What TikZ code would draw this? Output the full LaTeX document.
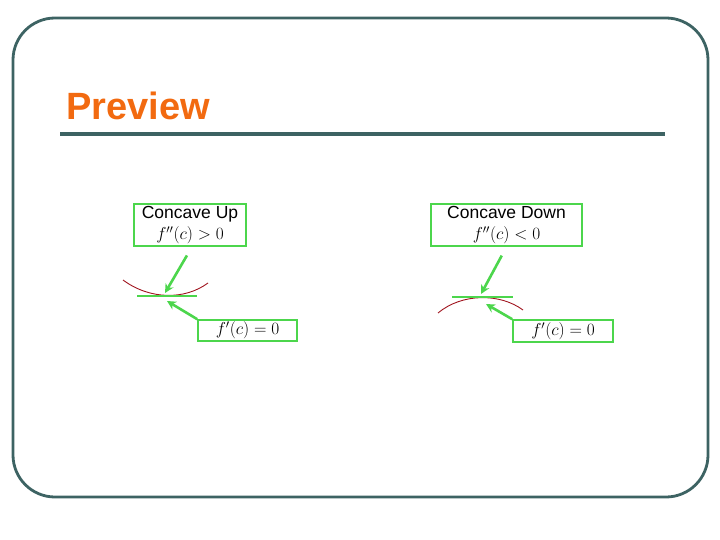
\documentclass[tikz,border=0pt]{standalone}
\usepackage{fontspec}
\setmainfont{Liberation Sans}
\usepackage{tikz}
\usetikzlibrary{arrows.meta, positioning, calc}
\definecolor{frameteal}{HTML}{3D6363}
\definecolor{titleorange}{HTML}{F26A10}
\definecolor{boxgreen}{HTML}{4CD64C}
\definecolor{curvered}{HTML}{A0141E}
\newcommand{\mathsz}{\fontsize{18}{21}\selectfont}

\begin{document}
\begin{tikzpicture}[
    x=1pt, y=-1pt,
    label/.style={rectangle, draw=boxgreen, line width=1.6pt, inner sep=0pt,
                  font=\fontsize{17.5}{21}\selectfont, align=center},
    pointer/.style={-{Stealth[length=9pt,width=9pt]}, boxgreen, line width=2.6pt},
    curve/.style={curvered, line width=0.9pt},
    tangent/.style={boxgreen, line width=1.2pt}
]
\useasboundingbox (0,0) rectangle (720,540);

% Frame and title
\draw[frameteal, line width=2.8pt, rounded corners=42pt] (13,18) rectangle (708,497);
\node[anchor=base west, inner sep=0pt, text=titleorange,
      font=\fontsize{38}{40}\selectfont\bfseries] (title) at (66,120) {Preview};
\draw[frameteal, line width=4pt] (60,134) -- (665,134);

% Concave up
\node[label, minimum width=112pt, minimum height=42pt] at (190,225) (upbox)
    {Concave Up\\\mathsz$f''(c)>0$};
\node[label, minimum width=99pt, minimum height=21pt] at (247.5,330.5) (upzero)
    {\mathsz$f'(c)=0$};
\draw[curve] (123,280) .. controls (150,300) and (185,300) .. (208,283);
\draw[tangent] (137,296) -- (197,296);
\coordinate (uptip) at (165,293);
\coordinate (uptip2) at (167,301);
\draw[pointer, shorten <=10pt] ([xshift=2pt]upbox.south) -- (uptip);
\draw[pointer] (upzero.north west) -- (uptip2);

% Concave down
\node[label, minimum width=151pt, minimum height=42pt] at (506.5,225) (downbox)
    {Concave Down\\\mathsz$f''(c)<0$};
\node[label, minimum width=100pt, minimum height=22pt] at (563,331) (downzero)
    {\mathsz$f'(c)=0$};
\draw[curve] (438,313) .. controls (462,293) and (500,293) .. (523,310);
\draw[tangent] (452,297) -- (513,297);
\coordinate (downtip) at (481,294);
\coordinate (downtip2) at (486,304);
\draw[pointer, shorten <=10pt] (downbox.south) -- (downtip);
\draw[pointer] (downzero.north west) -- (downtip2);

\end{tikzpicture}
\end{document}
